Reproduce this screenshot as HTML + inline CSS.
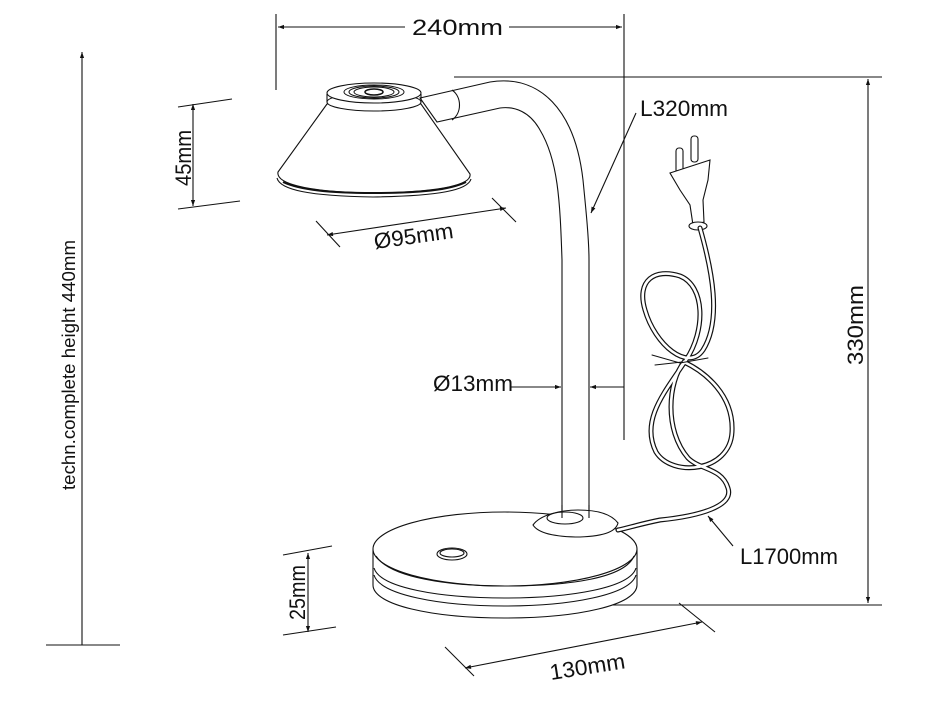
<!DOCTYPE html>
<html><head><meta charset="utf-8"><style>
html,body{margin:0;padding:0;background:#fff;width:931px;height:708px;overflow:hidden}
svg{display:block}
text{font-family:"Liberation Sans",sans-serif;fill:#111;font-size:22px}
</style></head><body>
<svg width="931" height="708" viewBox="0 0 931 708" xmlns="http://www.w3.org/2000/svg">
<defs>
<marker id="a" viewBox="0 0 10 10" refX="10" refY="5" markerWidth="10" markerHeight="6" orient="auto-start-reverse" markerUnits="userSpaceOnUse"><path d="M0,1.5 L10,5 L0,8.5z" fill="#111"/></marker>
</defs>
<g stroke="#111" stroke-width="1.1" fill="none">
<line x1="276" y1="14" x2="276" y2="90"/>
<line x1="624" y1="14" x2="624" y2="440"/>
<line x1="278" y1="27" x2="408" y2="27" marker-start="url(#a)"/>
<line x1="506" y1="27" x2="622" y2="27" marker-end="url(#a)"/>
<line x1="454" y1="77" x2="882" y2="77"/>
<line x1="612" y1="605" x2="882" y2="605"/>
<line x1="868" y1="79" x2="868" y2="603" marker-start="url(#a)" marker-end="url(#a)"/>
<line x1="82" y1="52" x2="82" y2="645" marker-start="url(#a)"/>
<line x1="46" y1="645" x2="120" y2="645"/>
<line x1="178" y1="107" x2="232" y2="99"/>
<line x1="178" y1="209" x2="240" y2="201"/>
<line x1="193" y1="104" x2="193" y2="206" marker-start="url(#a)" marker-end="url(#a)"/>
<line x1="316" y1="221" x2="340" y2="247"/>
<line x1="492" y1="198" x2="516" y2="222"/>
<line x1="327" y1="235" x2="506" y2="208" marker-start="url(#a)" marker-end="url(#a)"/>
<line x1="510" y1="387" x2="561" y2="387" marker-end="url(#a)"/>
<line x1="624" y1="387" x2="590" y2="387" marker-end="url(#a)"/>
<line x1="636" y1="113" x2="591" y2="213" marker-end="url(#a)"/>
<line x1="283" y1="555" x2="332" y2="546"/>
<line x1="283" y1="635" x2="336" y2="627"/>
<line x1="308" y1="553" x2="308" y2="632" marker-start="url(#a)" marker-end="url(#a)"/>
<line x1="445" y1="647" x2="474" y2="676"/>
<line x1="679" y1="603" x2="715" y2="632"/>
<line x1="465" y1="668" x2="702" y2="622" marker-start="url(#a)" marker-end="url(#a)"/>
<line x1="733" y1="546" x2="708" y2="516" marker-end="url(#a)"/>
</g>

<rect x="405" y="15" width="104" height="24" fill="#fff"/>
<text x="412" y="35" textLength="91" lengthAdjust="spacingAndGlyphs">240mm</text>
<text x="640" y="116" textLength="88" lengthAdjust="spacingAndGlyphs">L320mm</text>
<text transform="translate(863,365) rotate(-90)" textLength="80" lengthAdjust="spacingAndGlyphs">330mm</text>
<text transform="translate(75,490) rotate(-90)" textLength="250" lengthAdjust="spacingAndGlyphs" style="font-size:18px">techn.complete height 440mm</text>
<text transform="translate(191,186) rotate(-90)" textLength="56" lengthAdjust="spacingAndGlyphs">45mm</text>
<text transform="translate(375,249) rotate(-8)" textLength="80" lengthAdjust="spacingAndGlyphs">Ø95mm</text>
<text x="433" y="391" textLength="80" lengthAdjust="spacingAndGlyphs">Ø13mm</text>
<text transform="translate(305,620) rotate(-90)" textLength="55" lengthAdjust="spacingAndGlyphs">25mm</text>
<text transform="translate(551,680) rotate(-9)" textLength="76" lengthAdjust="spacingAndGlyphs">130mm</text>
<text x="740" y="564" textLength="98" lengthAdjust="spacingAndGlyphs">L1700mm</text>

<g stroke="#111" stroke-width="1.1" fill="#fff">
<path d="M420,98 L490,82 C540,74 575,110 583,180 C586,210 589,240 589,260 L589,518 L562,518 L562,260 C560,200 558,160 540,130 C530,112 515,106 500,108 L437,122 Z"/>
<path d="M452,90 C462,97 462,113 452,120" fill="none"/>
<path d="M327,104 L278,172 C276,182 300,192 373,193 C445,192 472,184 470,174 L421,104 Z"/>
<path d="M277,178 C280,190 310,196 373,197 C440,196 468,190 471,179" fill="none"/>
<path d="M283,182 C300,190 330,193 373,193 C420,193 450,190 466,182" fill="none" stroke-width="2"/>
<ellipse cx="374" cy="102" rx="47" ry="9"/>
<path d="M327,94 L327,102 M421,94 L421,102" fill="none"/>
<ellipse cx="374" cy="93" rx="47" ry="10"/>
<ellipse cx="374" cy="92" rx="30" ry="7" stroke-width="1"/>
<ellipse cx="374" cy="92" rx="25" ry="6" stroke-width="1"/>
<ellipse cx="374" cy="92" rx="20" ry="5" stroke-width="1"/>
<ellipse cx="374" cy="92" rx="9" ry="3" stroke-width="1.5"/>
<path d="M373,550 L373,585 C373,605 432,618 505,618 C578,618 637,605 637,585 L637,550 Z"/>
<path d="M374,568 C380,588 440,598 505,598 C570,598 630,588 636,568" fill="none"/>
<path d="M374,575 C380,595 440,606 505,606 C570,606 630,595 636,575" fill="none"/>
<ellipse cx="505" cy="549" rx="132" ry="37"/>
<path d="M376,556 C390,578 450,586 505,586 C570,586 625,578 634,556" fill="none"/>
<path d="M533,525 C540,515 560,510 578,510 C600,510 612,515 618,523 C616,531 606,536 580,537 C555,537 538,533 533,525 Z"/>
<ellipse cx="565" cy="518" rx="18" ry="6"/>
<path d="M562,518 L562,505 M589,518 L589,505" fill="none"/>
<ellipse cx="452" cy="554" rx="15" ry="6"/>
<ellipse cx="452" cy="553" rx="12" ry="4" fill="none"/>
<rect x="676" y="148" width="7" height="25" rx="3"/>
<rect x="691" y="136" width="7" height="26" rx="3"/>
<path d="M670,173 L710,160 L708,180 L703,200 L704,222 L693,225 L690,205 L680,190 Z"/>
<ellipse cx="698" cy="226" rx="9" ry="4"/>
</g>
<g fill="none" stroke-linecap="round">
<path id="c" d="M700,228 C712,270 722,320 703,350 C688,372 655,345 645,310 C636,280 655,268 680,276 C705,286 706,330 686,360 C665,392 640,420 656,452 C672,478 730,472 732,432 C734,395 705,372 684,362 C668,382 664,430 688,458 C700,470 722,468 728,488 C734,506 700,516 660,520 C640,524 628,528 618,530"/>
<use href="#c" stroke="#111" stroke-width="5"/>
<use href="#c" stroke="#fff" stroke-width="2.6"/>
<path d="M652,355 L680,363 L708,358 M655,365 L682,362" stroke="#111" stroke-width="1"/>
</g>
</svg>
</body></html>
